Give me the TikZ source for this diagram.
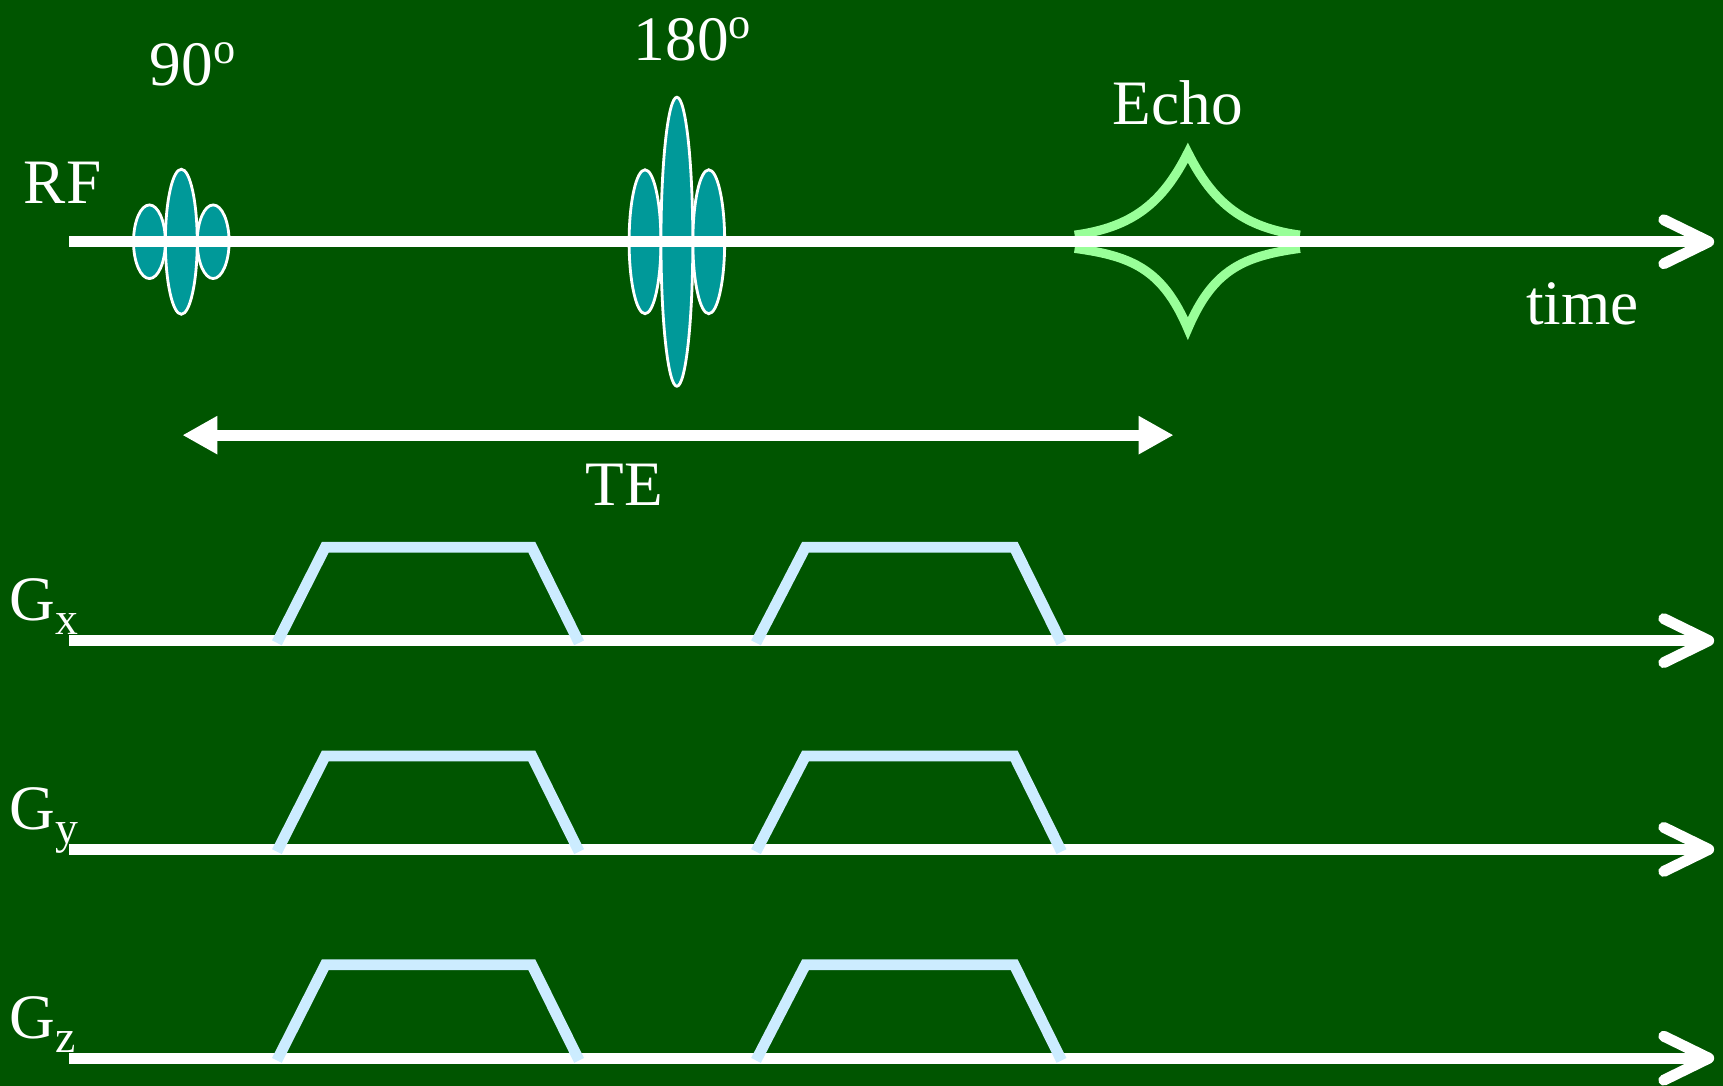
\documentclass[tikz,border=0pt]{standalone}
\usepackage{fontspec}
\setmainfont{Liberation Serif}
\usetikzlibrary{arrows.meta}

\definecolor{board}{RGB}{0,85,0}
\definecolor{pulse}{RGB}{0,153,153}
\definecolor{echoline}{RGB}{153,255,153}
\definecolor{grad}{RGB}{204,236,255}
\newcommand{\gsub}[1]{G\raisebox{-4pt}{\fontsize{13}{13}\selectfont #1}}

\begin{document}
\begin{tikzpicture}[
  x=0.010989cm, y=-0.010989cm,
  font=\fontsize{18}{20}\selectfont,
  every node/.style={text=white, inner sep=0pt},
  axis/.style={draw=white, line width=3.1pt,
    -{Straight Barb[length=0.45cm,width=0.44cm,round]}},
  span/.style={draw=white, line width=3.1pt,
    {Triangle[length=0.35cm,width=0.36cm]}-{Triangle[length=0.35cm,width=0.36cm]}},
  lobe/.style={draw=white, fill=pulse, line width=0.8pt},
  echo/.style={draw=echoline, line width=2.6pt},
  ramp/.style={draw=grad, line width=3.1pt, line join=miter}]

  % Background
  \fill[board] (0,0) rectangle (1568,988);
  \useasboundingbox (0,0) rectangle (1568,988);

  % RF pulses, side lobes first
  \foreach \cx/\h/\s in {165/66/33.5, 616/131.5/65.5} {
    \draw[lobe] (\cx-29,220) ellipse [x radius=14.5, y radius=\s];
    \draw[lobe] (\cx+29,220) ellipse [x radius=14.5, y radius=\s];
    \draw[lobe] (\cx,220) ellipse [x radius=14.5, y radius=\h];
  }

  % Echo signal
  \draw[echo] (978,214) .. controls (1030,207) and (1058,185) .. (1081,139)
    .. controls (1104,185) and (1132,207) .. (1183,214);
  \draw[echo] (978,226) .. controls (1030,233) and (1058,245) .. (1081,299)
    .. controls (1104,245) and (1132,233) .. (1183,226);

  % Time axes
  \foreach \name/\yy in {rf/220, gx/583, gy/773, gz/963} {
    \coordinate (\name0) at (63,\yy);
    \coordinate (\name1) at (1560,\yy);
    \draw[axis] (\name0) -- (\name1);
  }

  % Gradient lobes
  \foreach \yy in {583, 773, 963} {
    \foreach \xa/\xb/\xc/\xd in {252/296/484/527, 688/733/923/966} {
      \draw[ramp] (\xa,\yy+2) -- (\xb,\yy-85) -- (\xc,\yy-85) -- (\xd,\yy+2);
    }
  }

  % Echo time
  \coordinate (te0) at (166,396);
  \coordinate (te1) at (1068,396);
  \draw[span] (te0) -- (te1);

  % Labels
  \node[anchor=base] (lrf) at (57,185) {RF};
  \node[anchor=base] (l90) at (176,78) {90\textsuperscript{o}};
  \node[anchor=base] (l180) at (631,55) {180\textsuperscript{o}};
  \node[anchor=base] (lecho) at (1072,113) {Echo};
  \node[anchor=base] (ltime) at (1440,295) {time};
  \node[anchor=base] (lte) at (568,460) {TE};
  \node[anchor=base west] (lgx) at (8,565) {\gsub{x}};
  \node[anchor=base west] (lgy) at (8,755) {\gsub{y}};
  \node[anchor=base west] (lgz) at (8,945) {\gsub{z}};
\end{tikzpicture}
\end{document}
